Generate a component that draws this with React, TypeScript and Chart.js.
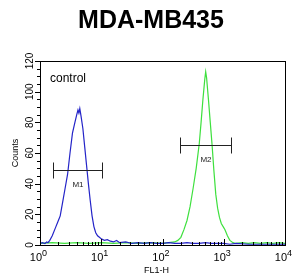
import React, { useEffect, useRef } from "react";
import { Chart, registerables } from "chart.js";

Chart.register(...registerables);

const title = "MDA-MB435";
const xAxisTitle = "FL1-H";
const yAxisTitle = "Counts";
const controlLabel = "control";

// log10(FL1-H) positions and counts
const blueLogX = [0.0, 0.04, 0.08, 0.11, 0.13, 0.16, 0.2, 0.25, 0.3, 0.33, 0.37, 0.41, 0.45, 0.49, 0.53, 0.57, 0.6, 0.62, 0.635, 0.65, 0.67, 0.7, 0.73, 0.76, 0.79, 0.82, 0.85, 0.88, 0.91, 0.94, 0.97, 1.0, 1.05, 1.1, 1.15, 1.2, 1.25, 1.3, 1.4, 1.5, 1.6, 1.7, 1.8, 1.9, 2.0, 2.1, 2.2, 2.3, 2.4, 2.5, 2.6, 2.7, 2.8, 2.9, 3.0, 3.1, 3.2, 3.4, 3.6, 3.8, 4.0];
const blueCounts = [1, 1.5, 1, 2, 1.5, 3, 6, 11, 16, 19, 28, 37, 46, 60, 73, 80, 85, 88, 86, 89, 84, 76, 64, 52, 40, 29, 19, 12, 8, 6, 5, 4, 3, 3.5, 2.5, 2, 3, 1.5, 2, 1, 1.5, 1, 1.5, 1, 1, 1.5, 1, 1, 1.5, 1, 1, 1.5, 1, 1, 1, 0.5, 1, 0.5, 0.5, 0.5, 0.5];

const greenLogX = [0.0, 0.2, 0.4, 0.6, 0.8, 1.0, 1.2, 1.4, 1.6, 1.8, 2.0, 2.1, 2.2, 2.25, 2.3, 2.35, 2.4, 2.45, 2.5, 2.55, 2.6, 2.63, 2.66, 2.69, 2.705, 2.72, 2.75, 2.78, 2.81, 2.84, 2.87, 2.9, 2.93, 2.96, 2.99, 3.02, 3.06, 3.1, 3.15, 3.2, 3.3, 3.4, 3.5, 3.6, 3.7, 3.8, 3.9, 4.0];
const greenCounts = [1, 1.5, 1, 1.5, 1, 1.5, 1, 1.5, 1, 1.5, 1, 1.5, 2, 3, 5, 10, 16, 25, 37, 50, 66, 80, 95, 108, 113, 109, 95, 80, 65, 48, 33, 24, 18, 14, 12, 10, 6, 3, 1.5, 1, 1.5, 1, 1.5, 1, 1.5, 1, 1.5, 1];

const markerNames = ["M1", "M2"];
const markerLo = [1.61, 193];
const markerHi = [10.2, 1313];
const markerLevel = [49, 65];

const xMajorTicks = [1, 10, 100, 1000, 10000];
const xExponents = ["0", "1", "2", "3", "4"];
const yMajorTicks = [0, 20, 40, 60, 80, 100, 120];

const decorPlugin = {
  id: "decor",
  afterDraw(chart: any) {
    const ctx = chart.ctx as CanvasRenderingContext2D;
    const { left, right, top, bottom } = chart.chartArea;
    const xs = chart.scales.x;
    const ys = chart.scales.y;
    ctx.save();
    ctx.strokeStyle = "#000";
    ctx.fillStyle = "#000";
    ctx.lineWidth = 1;
    // frame
    ctx.strokeRect(Math.round(left) + 0.5, Math.round(top) + 0.5, Math.round(right - left), Math.round(bottom - top));

    // y ticks
    for (let v = 0; v <= 120; v += 5) {
      const py = Math.round(ys.getPixelForValue(v)) + 0.5;
      const len = v % 20 === 0 ? 5 : 3;
      ctx.beginPath();
      ctx.moveTo(left - len, py);
      ctx.lineTo(left, py);
      ctx.stroke();
    }
    // x ticks (inside, upward)
    for (let d = 0; d < 4; d++) {
      for (let m = 1; m <= 9; m++) {
        const val = m * Math.pow(10, d);
        const px = Math.round(xs.getPixelForValue(val)) + 0.5;
        const len = m === 1 ? 6 : 3;
        ctx.beginPath();
        ctx.moveTo(px, bottom);
        ctx.lineTo(px, bottom - len);
        ctx.stroke();
      }
    }

    // y tick labels rotated
    ctx.font = "10px 'Liberation Sans', Arial, sans-serif";
    ctx.textAlign = "center";
    ctx.textBaseline = "middle";
    yMajorTicks.forEach((v) => {
      const py = ys.getPixelForValue(v);
      ctx.save();
      ctx.translate(30, py);
      ctx.rotate(-Math.PI / 2);
      ctx.fillText(String(v), 0, 0);
      ctx.restore();
    });
    // y title
    ctx.save();
    ctx.font = "9px 'Liberation Sans', Arial, sans-serif";
    ctx.translate(16, ys.getPixelForValue(60));
    ctx.rotate(-Math.PI / 2);
    ctx.fillText(yAxisTitle, 0, 0);
    ctx.restore();

    // x tick labels with superscripts
    xMajorTicks.forEach((v, i) => {
      const px = xs.getPixelForValue(v);
      ctx.font = "11px 'Liberation Sans', Arial, sans-serif";
      ctx.textAlign = "right";
      ctx.textBaseline = "alphabetic";
      ctx.fillText("10", px + 2, bottom + 16);
      ctx.font = "9px 'Liberation Sans', Arial, sans-serif";
      ctx.textAlign = "left";
      ctx.fillText(xExponents[i], px + 2, bottom + 11);
    });
    // x title
    ctx.font = "9px 'Liberation Sans', Arial, sans-serif";
    ctx.textAlign = "center";
    ctx.fillText(xAxisTitle, xs.getPixelForValue(80), bottom + 28);

    // title
    ctx.font = "bold 25px 'Liberation Sans', Arial, sans-serif";
    ctx.textAlign = "center";
    ctx.textBaseline = "middle";
    ctx.fillText(title, 151, 21);

    // control label
    ctx.font = "12px 'Liberation Sans', Arial, sans-serif";
    ctx.textAlign = "left";
    ctx.fillText(controlLabel, left + 10, top + 18);

    // markers
    markerNames.forEach((name, i) => {
      const x1 = Math.round(xs.getPixelForValue(markerLo[i])) + 0.5;
      const x2 = Math.round(xs.getPixelForValue(markerHi[i])) + 0.5;
      const py = Math.round(ys.getPixelForValue(markerLevel[i])) + 0.5;
      ctx.strokeStyle = "#222";
      ctx.beginPath();
      ctx.moveTo(x1, py);
      ctx.lineTo(x2, py);
      ctx.moveTo(x1, py - 8);
      ctx.lineTo(x1, py + 8);
      ctx.moveTo(x2, py - 8);
      ctx.lineTo(x2, py + 8);
      ctx.stroke();
      ctx.font = "8px 'Liberation Sans', Arial, sans-serif";
      ctx.textAlign = "center";
      ctx.textBaseline = "middle";
      ctx.fillStyle = "#222";
      ctx.fillText(name, (x1 + x2) / 2, py + 14);
    });
    ctx.restore();
  },
};

export default function App() {
  const ref = useRef<HTMLCanvasElement | null>(null);
  useEffect(() => {
    if (!ref.current) return;
    const chart = new Chart(ref.current, {
      type: "line",
      data: {
        datasets: [
          {
            label: "control",
            data: blueLogX.map((lx, i) => ({ x: Math.pow(10, lx), y: blueCounts[i] })),
            borderColor: "#2424c8",
            borderWidth: 1.2,
            pointRadius: 0,
            tension: 0,
          },
          {
            label: "sample",
            data: greenLogX.map((lx, i) => ({ x: Math.pow(10, lx), y: greenCounts[i] })),
            borderColor: "#3ee03e",
            borderWidth: 1.2,
            pointRadius: 0,
            tension: 0,
          },
        ],
      },
      options: {
        responsive: false,
        animation: false,
        layout: { padding: { left: 40, right: 21, top: 61, bottom: 35 } },
        plugins: {
          legend: { display: false },
          tooltip: { enabled: false },
          title: { display: false },
        },
        scales: {
          x: { type: "logarithmic", min: 1, max: 10000, display: false },
          y: { type: "linear", min: 0, max: 120, display: false },
        },
      },
      plugins: [decorPlugin],
    });
    return () => chart.destroy();
  }, []);
  return (
    <div style={{ position: "fixed", left: 0, top: 0, width: 306, height: 280, background: "#fff" }}>
      <canvas ref={ref} width={306} height={280} style={{ display: "block" }} />
    </div>
  );
}
